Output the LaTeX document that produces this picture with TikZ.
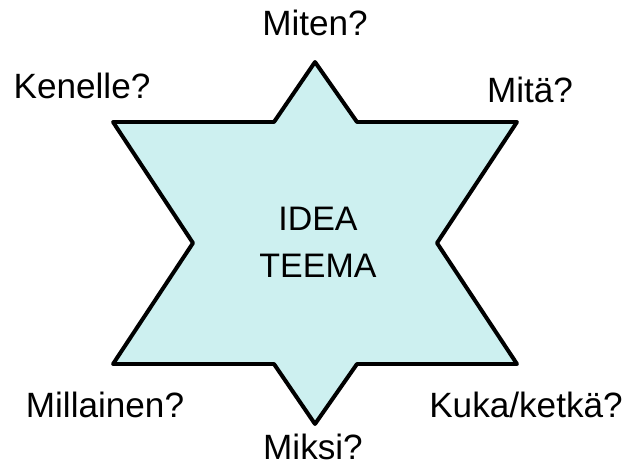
\documentclass[tikz,border=0pt]{standalone}
\usepackage{fontspec}
\setmainfont{Liberation Sans}
\usetikzlibrary{positioning}
\definecolor{starfill}{RGB}{205,240,240}
\tikzset{
  starshape/.style={draw=black, fill=starfill, line width=3.4pt, line join=round},
  questionlabel/.style={font=\fontsize{30}{36}\selectfont, anchor=base, inner sep=0pt},
  themelabel/.style={font=\fontsize{29}{40}\selectfont, anchor=base, align=center, inner sep=0pt}
}

\begin{document}
\begin{tikzpicture}[x=0.03cm, y=-0.03cm]
    \useasboundingbox (0,0) rectangle (631,468);
    % star corners
    \coordinate (top) at (315,62);
    \coordinate (topr) at (357,122);
    \coordinate (upright) at (517,122);
    \coordinate (right) at (437,243);
    \coordinate (lowright) at (517,364);
    \coordinate (botr) at (357,364);
    \coordinate (bottom) at (315,424);
    \coordinate (botl) at (274,364);
    \coordinate (lowleft) at (113,364);
    \coordinate (left) at (193,243);
    \coordinate (upleft) at (113,122);
    \coordinate (topl) at (274,122);
    \draw[starshape] (top) -- (topr) -- (upright) -- (right) -- (lowright) -- (botr)
      -- (bottom) -- (botl) -- (lowleft) -- (left) -- (upleft) -- (topl) -- cycle;
    \node[themelabel] (idea) at (318,277) {IDEA\\TEEMA};
    % questions round the star
    \node[questionlabel] (miten) at (315,35) {Miten?};
    \node[questionlabel] (kenelle) at (82,98) {Kenelle?};
    \node[questionlabel] (mita) at (530,102) {Mitä?};
    \node[questionlabel] (millainen) at (105,417) {Millainen?};
    \node[questionlabel] (kuka) at (526,417) {Kuka/ketkä?};
    \node[questionlabel] (miksi) at (313,459) {Miksi?};
  \end{tikzpicture}
\end{document}
